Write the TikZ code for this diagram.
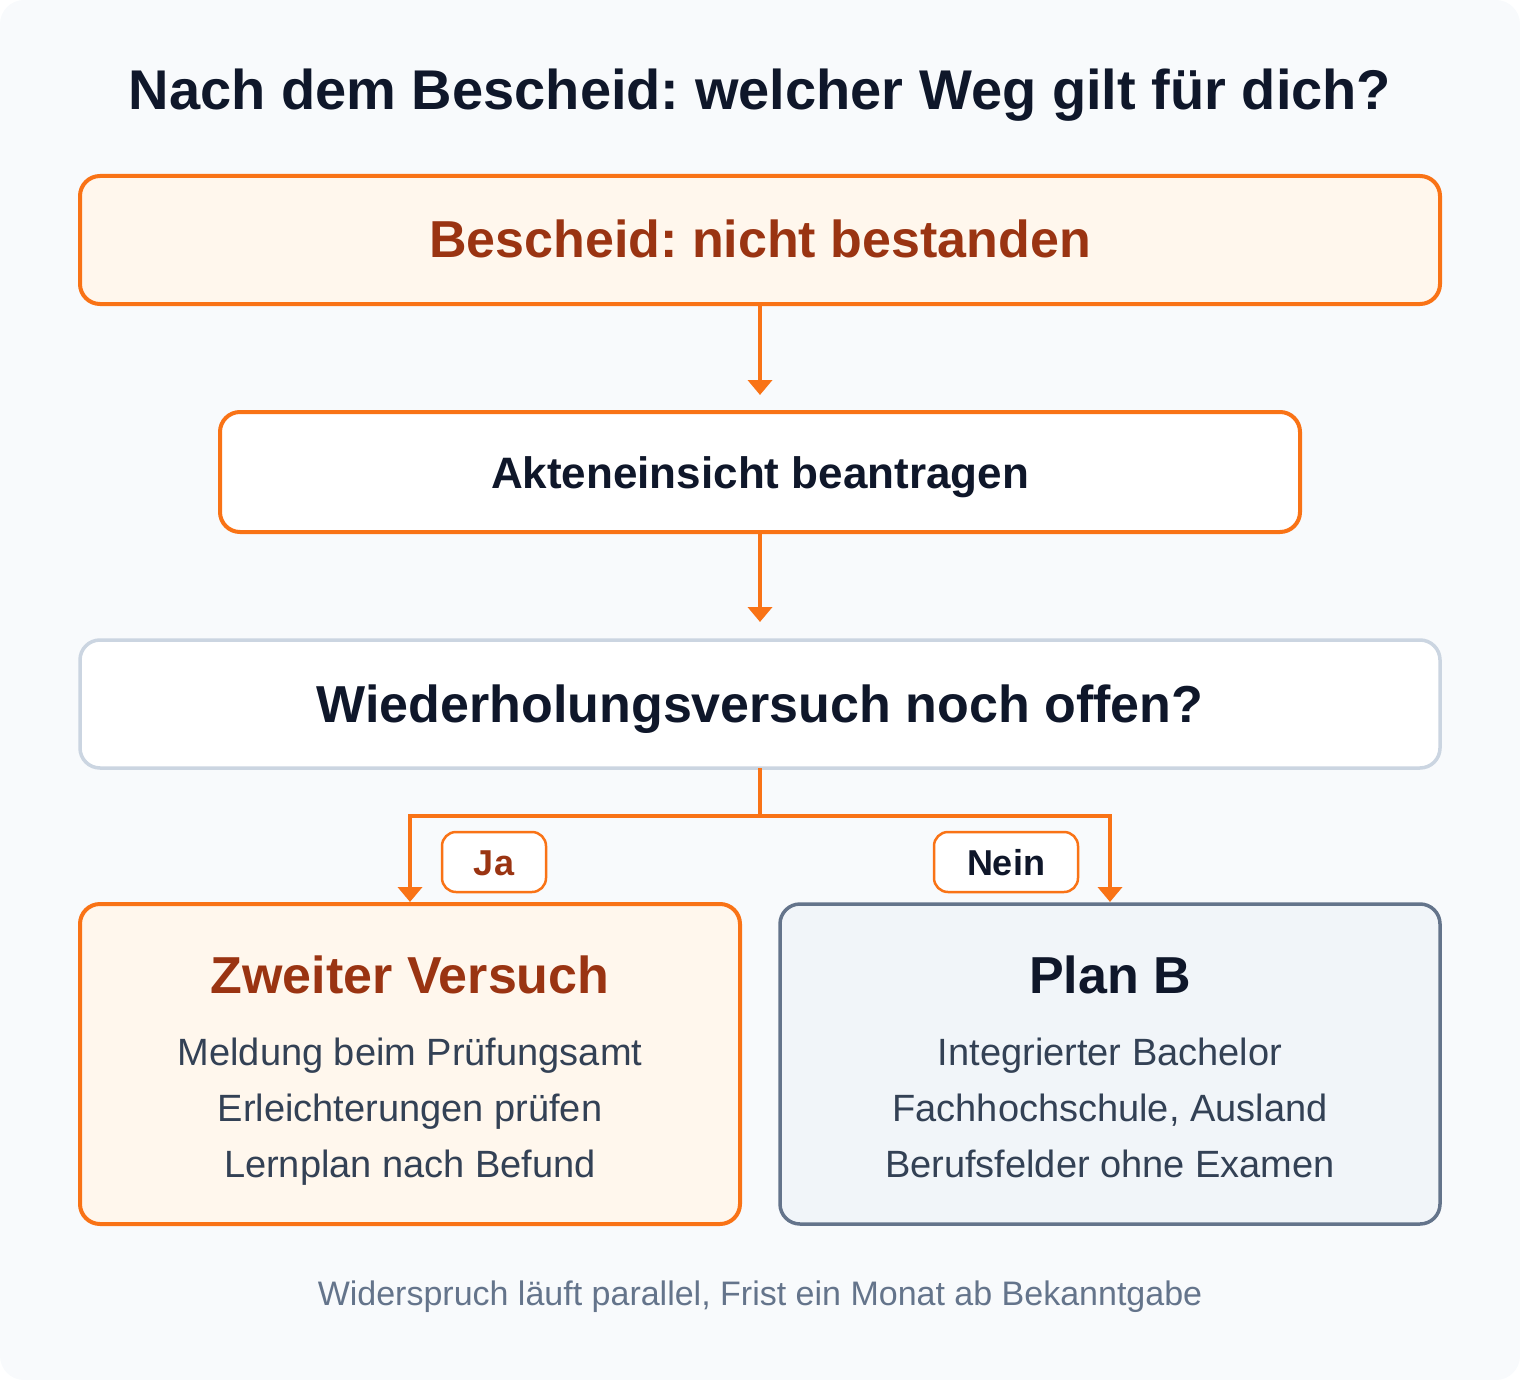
\documentclass[tikz,border=0pt]{standalone}
\usepackage{fontspec}
\setmainfont{Liberation Sans}
\usetikzlibrary{arrows.meta}
\frenchspacing
\definecolor{bgc}{HTML}{F8FAFC}
\definecolor{orng}{HTML}{F97316}
\definecolor{orngfill}{HTML}{FFF7ED}
\definecolor{orngtext}{HTML}{9A3412}
\definecolor{ink}{HTML}{0F172A}
\definecolor{slatetext}{HTML}{334155}
\definecolor{slatemid}{HTML}{64748B}
\definecolor{slateline}{HTML}{CBD5E1}
\definecolor{slatefill}{HTML}{F1F5F9}
\newcommand{\fs}[1]{\fontsize{#1}{#1}\selectfont}
\tikzset{
  x=1pt, y=-1pt,
  box/.style={rectangle, rounded corners=20pt, line width=4pt, outer sep=0pt, inner sep=0pt},
  lbl/.style={rectangle, rounded corners=14pt, line width=2.5pt, draw=orng, fill=white, outer sep=0pt, inner sep=0pt, minimum height=60pt},
  txt/.style={anchor=base, inner sep=0pt},
  conn/.style={draw=orng, line width=4pt},
  arr/.style={conn, -{Triangle[length=15pt, width=24pt]}},
}
\begin{document}
\frenchspacing
\begin{tikzpicture}
\useasboundingbox (0,0) rectangle (1520,1380);
\fill[bgc, rounded corners=24pt] (0,0) rectangle (1520,1380);

\node[txt, font=\bfseries\fs{56}, text=ink] (title) at (760,110) {Nach dem Bescheid: welcher Weg gilt für dich?};

\node[box, draw=orng, fill=orngfill, minimum width=1360pt, minimum height=128pt] (b1) at (760,240) {};
\node[txt, font=\bfseries\fs{52}, text=orngtext] (t1) at (760,258) {Bescheid: nicht bestanden};

\node[box, draw=orng, fill=white, minimum width=1080pt, minimum height=120pt] (b2) at (760,472) {};
\node[txt, font=\bfseries\fs{44}, text=ink] (t2) at (760,488) {Akteneinsicht beantragen};

\node[box, draw=slateline, line width=3.5pt, fill=white, minimum width=1360pt, minimum height=128pt] (b3) at (760,704) {};
\node[txt, font=\bfseries\fs{52}, text=ink] (t3) at (760,722) {Wiederholungsversuch noch offen?};

\node[box, draw=orng, fill=orngfill, minimum width=660pt, minimum height=320pt] (b4) at (410,1064) {};
\node[txt, font=\bfseries\fs{52}, text=orngtext] (t4) at (410,993) {Zweiter Versuch};
\node[txt, font=\fs{38}, text=slatetext] (t4a) at (410,1065) {Meldung beim Prüfungsamt};
\node[txt, font=\fs{38}, text=slatetext] (t4b) at (410,1121) {Erleichterungen prüfen};
\node[txt, font=\fs{38}, text=slatetext] (t4c) at (410,1177) {Lernplan nach Befund};

\node[box, draw=slatemid, line width=3.5pt, fill=slatefill, minimum width=660pt, minimum height=320pt] (b5) at (1110,1064) {};
\node[txt, font=\bfseries\fs{52}, text=ink] (t5) at (1110,993) {Plan B};
\node[txt, font=\fs{38}, text=slatetext] (t5a) at (1110,1065) {Integrierter Bachelor};
\node[txt, font=\fs{38}, text=slatetext] (t5b) at (1110,1121) {Fachhochschule, Ausland};
\node[txt, font=\fs{38}, text=slatetext] (t5c) at (1110,1177) {Berufsfelder ohne Examen};

\draw[arr, shorten >=17pt] (b1.south) -- (b2.north);
\draw[arr, shorten >=18pt] (b2.south) -- (b3.north);
\draw[conn] (b3.south) -- ++(0,48) coordinate (j);
\draw[arr, shorten >=2pt] (j) -| (b4.north);
\draw[arr, shorten >=2pt] (j) -| (b5.north);

\node[lbl, minimum width=104pt] (ja) at (494,862) {};
\node[txt, font=\bfseries\fs{36}, text=orngtext] (jat) at (494,875) {Ja};
\node[lbl, minimum width=144pt] (nein) at (1006,862) {};
\node[txt, font=\bfseries\fs{36}, text=ink] (neint) at (1006,875) {Nein};

\node[txt, font=\fs{34}, text=slatemid] (foot) at (760,1305) {Widerspruch läuft parallel, Frist ein Monat ab Bekanntgabe};
\end{tikzpicture}
\end{document}
